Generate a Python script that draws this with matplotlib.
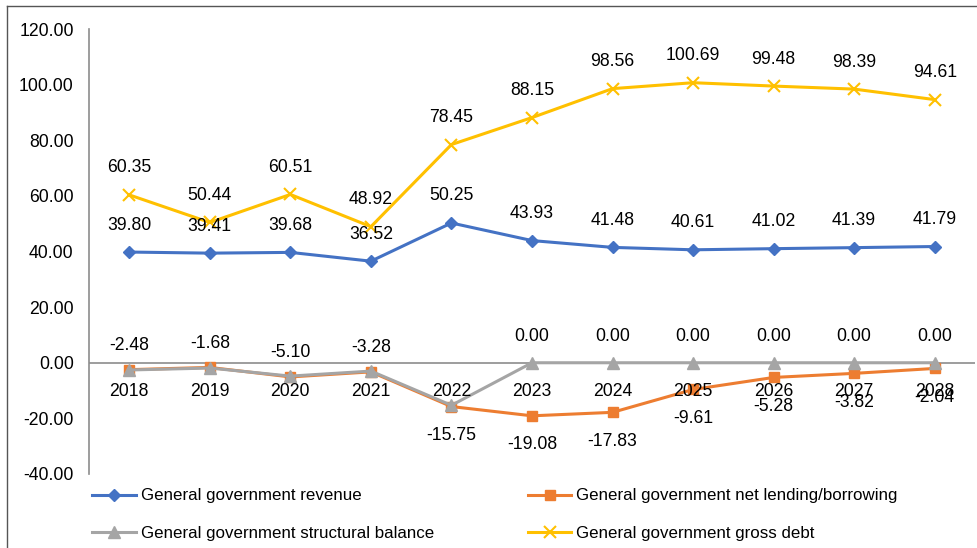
import matplotlib
matplotlib.use("Agg")
import matplotlib.pyplot as plt
from matplotlib.lines import Line2D

plt.rcParams['font.family'] = ['Liberation Sans', 'DejaVu Sans']

years = ["2018", "2019", "2020", "2021", "2022", "2023", "2024", "2025", "2026", "2027", "2028"]
revenue = [39.80, 39.41, 39.68, 36.52, 50.25, 43.93, 41.48, 40.61, 41.02, 41.39, 41.79]
net_lending = [-2.48, -1.68, -5.10, -3.28, -15.75, -19.08, -17.83, -9.61, -5.28, -3.82, -2.04]
structural = [-2.6, -1.9, -4.8, -3.0, -15.3, 0.00, 0.00, 0.00, 0.00, 0.00, 0.00]
gross_debt = [60.35, 50.44, 60.51, 48.92, 78.45, 88.15, 98.56, 100.69, 99.48, 98.39, 94.61]
y_ticks = [-40, -20, 0, 20, 40, 60, 80, 100, 120]

FS = 12.7
W, H = 977, 548
fig = plt.figure(figsize=(W / 100, H / 100), dpi=100)
ax = fig.add_axes([89 / W, 1 - 474 / H, (975 - 89) / W, (474 - 29) / H])

x = list(range(len(years)))
blue, orange, gray, gold = "#4472C4", "#ED7D31", "#A5A5A5", "#FFC000"
lw = 2.2

ax.plot(x, revenue, color=blue, lw=lw, marker="D", ms=6.5, zorder=4)
ax.plot(x, net_lending, color=orange, lw=lw, marker="s", ms=7.5, zorder=3)
ax.plot(x, structural, color=gray, lw=lw, marker="^", ms=8, zorder=3)
ax.plot(x, gross_debt, color=gold, lw=lw, marker="x", ms=8, mew=1.5, zorder=4)

ax.set_xlim(-0.5, len(years) - 0.5)
ax.set_ylim(-40, 120)
ax.set_yticks(y_ticks)
ax.set_yticklabels([f"{v:.2f}" for v in y_ticks], fontsize=FS)
ax.tick_params(axis="y", length=0, pad=11)
ax.set_xticks([])

for s in ["top", "right", "bottom"]:
    ax.spines[s].set_visible(False)
ax.spines["left"].set_color("#8C8C8C")
ax.spines["left"].set_linewidth(1.2)
ax.axhline(0, color="#8C8C8C", lw=1.2, zorder=1)

# category labels sit just under the zero line
for i, yr in enumerate(years):
    ax.annotate(yr, (i, 0), xytext=(0, -29), textcoords="offset pixels",
                ha="center", va="center", fontsize=FS, zorder=6)

def label(i, v, dy):
    ax.annotate(f"{v:.2f}", (i, v), xytext=(0, dy), textcoords="offset pixels",
                ha="center", va="center", fontsize=FS, zorder=6)

for i, v in enumerate(revenue):
    label(i, v, 27)
for i, v in enumerate(gross_debt):
    label(i, v, 27)
for i, v in enumerate(net_lending):
    label(i, v, 24 if i < 4 else -29)
for i, v in enumerate(structural):
    if i >= 5:
        label(i, v, 26)

h_rev = Line2D([], [], color=blue, lw=lw, marker="D", ms=6.5)
h_net = Line2D([], [], color=orange, lw=lw, marker="s", ms=7.5)
h_str = Line2D([], [], color=gray, lw=lw, marker="^", ms=8)
h_debt = Line2D([], [], color=gold, lw=lw, marker="x", ms=8, mew=1.5)
# legend fills column by column: revenue / structural, then net lending / debt
fig.legend([h_rev, h_str, h_net, h_debt],
           ["General government revenue",
            "General government structural balance",
            "General government net lending/borrowing",
            "General government gross debt"],
           loc="upper left", bbox_to_anchor=(84 / W, 1 - 480 / H),
           ncol=2, frameon=False, fontsize=12.2, borderpad=0,
           handlelength=2.55, handletextpad=0.3, columnspacing=5.55,
           labelspacing=1.35)

# chart-area frame (top and left edges)
fig.add_artist(Line2D([7 / W, 7 / W], [0, 1 - 6 / H], color="#555555", lw=1.0))
fig.add_artist(Line2D([7 / W, 1], [1 - 6 / H, 1 - 6 / H], color="#555555", lw=1.0))

fig.savefig("out.png", dpi=100)
